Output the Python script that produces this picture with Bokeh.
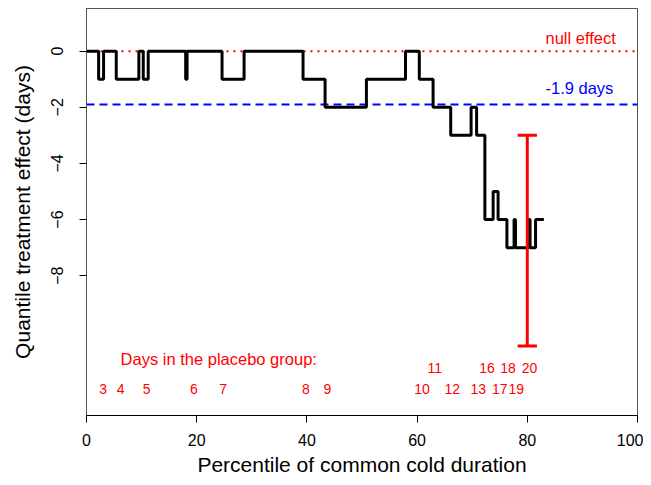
import math
from bokeh.plotting import figure
from bokeh.models import Range1d, FixedTicker, ColumnDataSource
from bokeh.core.properties import value
from bokeh.embed import file_html
from bokeh.resources import INLINE

# step function of quantile treatment effect (percentile breakpoints, effect in days)
step_x = [0, 2.2, 3.1, 5.4, 9.5, 10.3, 11.2, 18.0, 18.25, 24.6, 28.6, 39.3, 43.3,
          50.8, 57.9, 60.4, 62.9, 66.1, 69.8, 70.8, 72.3, 73.8, 74.7, 76.3, 77.6,
          77.85, 80.25, 80.5, 81.5, 83.0]
step_y = [0, -1, 0, -1, 0, -1, 0, -1, 0, -1, 0, -1, -2,
          -1, 0, -1, -2, -3, -2, -3, -6, -5, -6, -7, -6,
          -7, -6, -7, -6, -6]

null_effect = 0
mean_effect = -1.9
ci_x = 80
ci_low = -10.5
ci_high = -3.0

day_top_labels = ["11", "16", "18", "20"]
day_top_x = [63.2, 72.7, 76.5, 80.4]
day_bot_labels = ["3", "4", "5", "6", "7", "8", "9", "10", "12", "13", "17", "19"]
day_bot_x = [3.0, 6.2, 10.9, 19.5, 24.8, 39.8, 43.7, 60.9, 66.4, 71.1, 75.0, 78.0]

FONT = "Liberation Sans"

p = figure(width=643, height=485, output_backend="svg", toolbar_location=None,
           x_range=Range1d(0, 100), y_range=Range1d(-12.98, 1.52),
           min_border_left=86, min_border_top=8, min_border_right=6, min_border_bottom=70)
p.grid.visible = False
p.outline_line_color = "#555555"
p.outline_line_width = 1
p.background_fill_color = "white"
p.border_fill_color = "white"

# axes
p.xaxis.ticker = FixedTicker(ticks=[0, 20, 40, 60, 80, 100])
p.yaxis.ticker = FixedTicker(ticks=[0, -2, -4, -6, -8])
p.xaxis.minor_tick_line_color = None
p.yaxis.minor_tick_line_color = None
for ax in (p.xaxis, p.yaxis):
    ax.major_tick_out = 7
    ax.major_tick_in = 0
    ax.major_tick_line_color = "black"
    ax.major_label_text_font = FONT
    ax.major_label_text_font_size = "16px"
    ax.major_label_text_color = "black"
    ax.axis_label_text_font = FONT
    ax.axis_label_text_font_size = "21px"
    ax.axis_label_text_font_style = "normal"
    ax.axis_label_text_color = "black"
p.xaxis.axis_line_color = "black"
p.yaxis.axis_line_color = "#555555"
p.yaxis.major_label_orientation = "vertical"
p.xaxis.major_label_standoff = 11
p.yaxis.major_label_standoff = 16
p.xaxis.axis_label = "Percentile of common cold duration"
p.yaxis.axis_label = "Quantile treatment effect (days)"
p.xaxis.axis_label_standoff = 4
p.yaxis.axis_label_standoff = 15

# reference lines
p.line([0, 100], [null_effect, null_effect], line_color="red", line_width=2, line_dash="2 5")
p.line([0, 100], [mean_effect, mean_effect], line_color="blue", line_width=2, line_dash="8 5")

# step line
src = ColumnDataSource(dict(x=step_x, y=step_y))
p.step("x", "y", source=src, mode="after", line_color="black", line_width=3)

# CI bar
cap = 1.75
p.segment(x0=[ci_x, ci_x - cap, ci_x - cap], y0=[ci_low, ci_low, ci_high],
          x1=[ci_x, ci_x + cap, ci_x + cap], y1=[ci_high, ci_low, ci_high],
          line_color="red", line_width=3)

# annotations
p.text(x=[83.3], y=[0.47], text=["null effect"], text_color="red",
       text_font=value(FONT), text_font_size="16.5px", text_align="left", text_baseline="middle")
p.text(x=[83.3], y=[-1.33], text=["-1.9 days"], text_color="blue",
       text_font=value(FONT), text_font_size="16.5px", text_align="left", text_baseline="middle")
p.text(x=[24.0], y=[-10.95], text=["Days in the placebo group:"], text_color="red",
       text_font=value(FONT), text_font_size="16.5px", text_align="center", text_baseline="middle")
p.text(x=day_top_x, y=[-11.3] * len(day_top_x), text=day_top_labels, text_color="red",
       text_font=value(FONT), text_font_size="14px", text_align="center", text_baseline="middle")
p.text(x=day_bot_x, y=[-12.02] * len(day_bot_x), text=day_bot_labels, text_color="red",
       text_font=value(FONT), text_font_size="14px", text_align="center", text_baseline="middle")

open("out.html", "w").write(file_html(p, INLINE))
